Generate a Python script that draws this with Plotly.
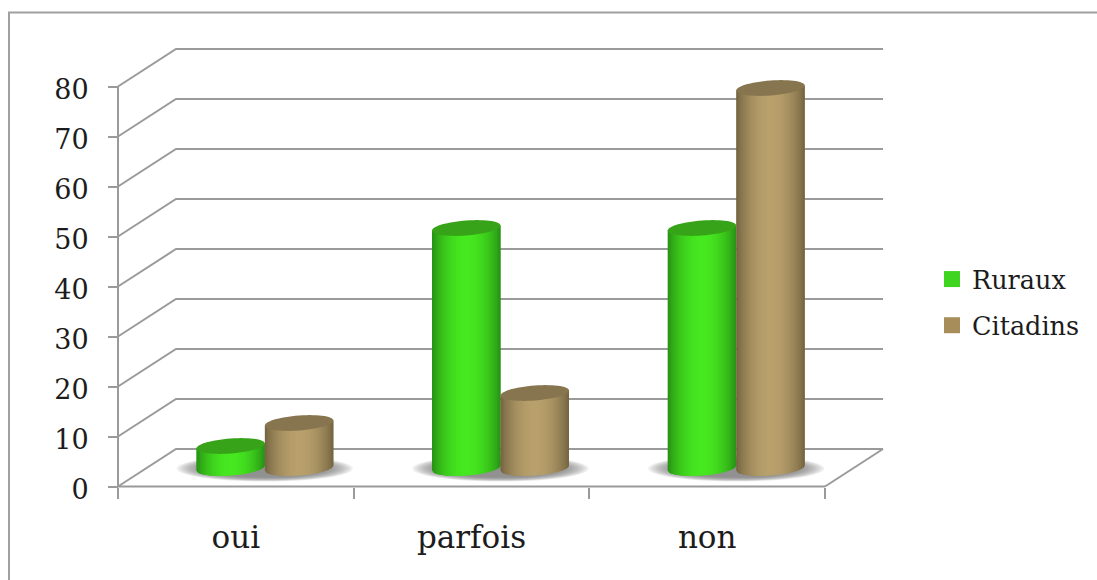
import math
import plotly.graph_objects as go

categories = ["oui", "parfois", "non"]
ruraux = [4.4, 48, 48]
citadins = [9, 15, 76]
y_ticks = [0, 10, 20, 30, 40, 50, 60, 70, 80]

W, H = 1097, 580
ORIGIN_X, ORIGIN_Y = 118.0, 486.5   # pixel position of the axes' origin
PX_X = 235.67                       # pixels per category
PX_Y = 5.0                          # pixels per value unit
WALL_DX, WALL_DY = 58 / PX_X, 37.5 / PX_Y
MID_DX, MID_DY = WALL_DX / 2, 18.5 / PX_Y
CYL_W = 68.5 / PX_X
RX, RY, SHEAR = CYL_W / 2, 7.5 / PX_Y, 2.5 / PX_Y
GRID = "#9a9a9a"
TEXT = "#1c1c1c"
FONT = "DejaVu Serif"
N_STRIPS = 40

fig = go.Figure()


def add_line(xs, ys, color=GRID, width=2):
    fig.add_trace(go.Scatter(x=xs, y=ys, mode="lines", line=dict(color=color, width=width),
                             hoverinfo="skip", showlegend=False))


def add_fill(xs, ys, color):
    fig.add_trace(go.Scatter(x=xs, y=ys, mode="none", fill="toself", fillcolor=color,
                             hoverinfo="skip", showlegend=False))


# walls and floor
for v in y_ticks:
    add_line([0, WALL_DX, 3 + WALL_DX], [v, v + WALL_DY, v + WALL_DY])
add_line([3, 3 + WALL_DX], [0, WALL_DY])
add_line([0, 3], [0, 0])
add_line([0, 0], [0, 80])


def ellipse(cx, cy, rx, ry, shear=0.0, n=60):
    xs, ys = [], []
    for k in range(n + 1):
        t = 2 * math.pi * k / n
        xs.append(cx + rx * math.cos(t))
        ys.append(cy + ry * math.sin(t) + shear * math.cos(t))
    return xs, ys


# soft shadows on the floor
for i in range(len(categories)):
    cx = i + 0.5 + MID_DX
    for s in range(12):
        f = 1 - s * 0.03
        xs, ys = ellipse(cx, MID_DY - 0.1, (88 / PX_X) * f, (13 / PX_Y) * f)
        add_fill(xs, ys, "rgba(120,120,120,0.13)")


def mix(a, b, f):
    return "rgb(%d,%d,%d)" % tuple(round(a[j] + (b[j] - a[j]) * f) for j in range(3))


def lower(u):
    return MID_DY + SHEAR * u - RY * math.sqrt(max(0.0, 1 - u * u))


def cylinders(values, centre_off, dark, bright, cap):
    du = 2 / N_STRIPS
    for s in range(N_STRIPS):
        u0 = -1 + s * du
        um = u0 + du / 2
        u1 = min(1.0, u0 + 2 * du)   # overlap the next strip so no hairlines show
        shade = math.sin(math.pi * (um + 1) / 2) ** 0.75
        xs, ys = [], []
        for i, v in enumerate(values):
            cx = i + 0.5 + MID_DX + centre_off
            top = v + MID_DY
            um2 = (u0 + u1) / 2
            xs += [cx + u0 * RX, cx + um2 * RX, cx + u1 * RX, cx + u1 * RX, cx + u0 * RX, cx + u0 * RX, None]
            ys += [lower(u0), lower(um2), lower(u1), top + SHEAR * u1, top + SHEAR * u0, lower(u0), None]
        add_fill(xs, ys, mix(dark, bright, shade))
    xs, ys = [], []
    for i, v in enumerate(values):
        ex, ey = ellipse(i + 0.5 + MID_DX + centre_off, v + MID_DY, RX, RY, SHEAR)
        xs += ex + [None]
        ys += ey + [None]
    add_fill(xs, ys, cap)


cylinders(ruraux, -RX, (38, 140, 20), (70, 232, 32), "#37a318")
cylinders(citadins, RX, (112, 96, 62), (184, 160, 108), "#86754e")

# legend entries
for name, color, grp in [("Ruraux", "#3fd41f", "a"), ("Citadins", "#a68d5a", "b")]:
    fig.add_trace(go.Scatter(x=[None], y=[None], mode="markers", name=name, legendgroup=grp,
                             marker=dict(symbol="square", size=17, color=color)))

fig.update_layout(
    width=W, height=H, autosize=False,
    margin=dict(l=0, r=0, t=0, b=0, autoexpand=False),
    paper_bgcolor="white", plot_bgcolor="rgba(0,0,0,0)",
    font=dict(family=FONT, color=TEXT),
    legend=dict(x=932 / W, y=1 - 256 / H, xanchor="left", yanchor="top", tracegroupgap=10,
                font=dict(size=25.5, family=FONT, color=TEXT), bgcolor="rgba(0,0,0,0)",
                itemclick=False, itemdoubleclick=False),
    xaxis=dict(range=[-ORIGIN_X / PX_X, (W - ORIGIN_X) / PX_X], domain=[0, 1],
               anchor="free", position=1 - ORIGIN_Y / H,
               tickvals=[0.5, 1.5, 2.5], ticktext=categories, ticks="", showgrid=False,
               zeroline=False, showline=False,
               tickfont=dict(size=31), ticklabelstandoff=29,
               minor=dict(tickvals=[0, 1, 2, 3], ticks="outside", ticklen=11, tickwidth=2,
                          tickcolor=GRID, showgrid=False)),
    yaxis=dict(range=[-(H - ORIGIN_Y) / PX_Y, ORIGIN_Y / PX_Y], domain=[0, 1],
               anchor="free", position=ORIGIN_X / W,
               tickvals=y_ticks, ticks="outside", ticklen=10, tickwidth=2, tickcolor=GRID,
               showgrid=False, zeroline=False, showline=False,
               tickfont=dict(size=27), ticklabelstandoff=14, ticklabelshift=3),
    shapes=[dict(type="path", xref="paper", yref="paper", layer="below",
                 path="M %f 0 L %f %f L 1 %f" % (9 / W, 9 / W, 1 - 12.5 / H, 1 - 12.5 / H),
                 line=dict(color="#a0a0a0", width=2))],
)

fig.write_html("out.html", default_width=f"{W}px", default_height=f"{H}px",
               config={"displayModeBar": False},
               post_script="document.body.style.margin='0';")
